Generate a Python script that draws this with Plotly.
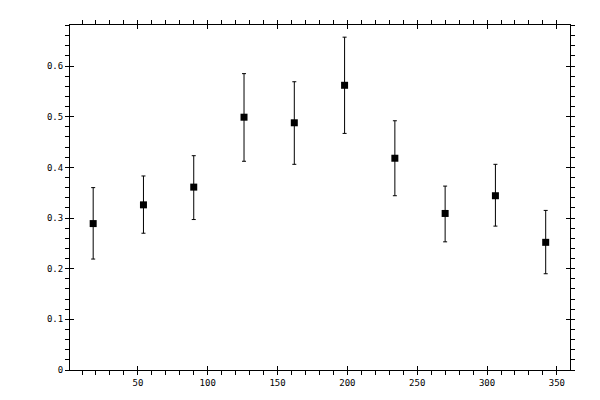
import plotly.graph_objects as go

# bin centres and measured values
angle = [18, 54, 90, 126, 162, 198, 234, 270, 306, 342]
value = [0.289, 0.326, 0.361, 0.499, 0.488, 0.562, 0.418, 0.309, 0.344, 0.252]
upper = [0.360, 0.383, 0.423, 0.585, 0.569, 0.657, 0.492, 0.363, 0.406, 0.315]
lower = [0.219, 0.270, 0.297, 0.412, 0.406, 0.467, 0.344, 0.253, 0.284, 0.190]

err_plus = [u - v for u, v in zip(upper, value)]
err_minus = [v - l for v, l in zip(value, lower)]

x_range = [1.4, 359.4]
y_range = [0, 0.681]
font = dict(family="DejaVu Sans Mono", size=9, color="black")

fig = go.Figure()
fig.add_trace(go.Scatter(
    x=angle, y=value, mode="markers",
    marker=dict(symbol="square", size=7, color="black"),
    error_y=dict(type="data", symmetric=False, array=err_plus, arrayminus=err_minus,
                 color="black", thickness=1, width=2),
    showlegend=False,
))
# invisible trace so the inner-tick axes get drawn
fig.add_trace(go.Scatter(x=[100], y=[0.3], xaxis="x2", yaxis="y2",
                         mode="markers", marker=dict(opacity=0), showlegend=False,
                         hoverinfo="skip"))

common = dict(showline=True, linecolor="black", linewidth=1, mirror="allticks",
              showgrid=False, zeroline=False, tickcolor="black", tickwidth=1)

# page body has an 8px margin, so the plot margins are shifted to compensate
fig.update_layout(
    width=600, height=400,
    margin=dict(l=62, r=38, t=12, b=38),
    paper_bgcolor="white", plot_bgcolor="white",
    font=font,
    xaxis=dict(range=x_range, tick0=0, dtick=50, ticks="outside", ticklen=4,
               minor=dict(dtick=10, tick0=0, ticks="outside", ticklen=4,
                          tickcolor="black", tickwidth=1),
               tickfont=font, **common),
    yaxis=dict(range=y_range, tick0=0, dtick=0.1, ticks="outside", ticklen=4,
               minor=dict(dtick=0.02, tick0=0, ticks="outside", ticklen=4,
                          tickcolor="black", tickwidth=1),
               tickfont=font, **common),
    xaxis2=dict(range=x_range, overlaying="x", tick0=0, dtick=50, ticks="inside",
                ticklen=4, showticklabels=False, **common),
    yaxis2=dict(range=y_range, overlaying="y", tick0=0, dtick=0.1, ticks="inside",
                ticklen=4, showticklabels=False, **common),
)

fig.write_html("out.html")
